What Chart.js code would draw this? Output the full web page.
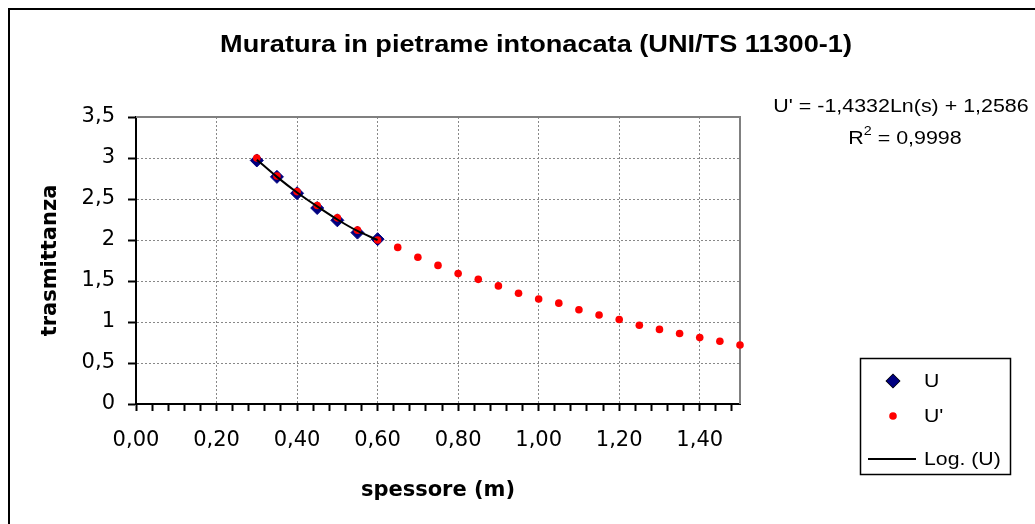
<!DOCTYPE html>
<html>
<head>
<meta charset="utf-8">
<script src="https://cdn.jsdelivr.net/npm/chart.js@4.4.0/dist/chart.umd.min.js"></script>
<style>
  html, body { margin: 0; padding: 0; background: #fff; }
  #wrap { position: relative; width: 1035px; height: 524px; }
</style>
</head>
<body>
<div id="wrap"><canvas id="chart"></canvas></div>
<script>
// valori
const spessoreU = [0.30, 0.35, 0.40, 0.45, 0.50, 0.55, 0.60];
const valoriU = [2.97, 2.77, 2.57, 2.39, 2.24, 2.09, 2.01];

const spessoreUp = [0.30, 0.35, 0.40, 0.45, 0.50, 0.55, 0.60, 0.65, 0.70, 0.75, 0.80, 0.85, 0.90,
    0.95, 1.00, 1.05, 1.10, 1.15, 1.20, 1.25, 1.30, 1.35, 1.40, 1.45, 1.50];
const valoriUp = [3.00, 2.78, 2.59, 2.42, 2.27, 2.12, 2.00, 1.91, 1.79, 1.69, 1.59, 1.52, 1.44,
    1.35, 1.28, 1.23, 1.15, 1.085, 1.03, 0.96, 0.91, 0.86, 0.81, 0.765, 0.72];

// linea di tendenza logaritmica (U)
const spessoreLog = [0.30, 0.35, 0.40, 0.45, 0.50, 0.55, 0.60];
const valoriLog = [2.98, 2.77, 2.58, 2.41, 2.25, 2.11, 2.00];

const titolo = 'Muratura in pietrame intonacata (UNI/TS 11300-1)';
const equazione = "U' = -1,4332Ln(s) + 1,2586";
const erre2 = '0,9998';
const legendaVoci = ['U', "U'", 'Log. (U)'];

const FONT = "'Liberation Sans', Arial, sans-serif";
const AXFONT = "'DejaVu Sans', sans-serif";

function toPoints(xs, ys) { return xs.map((x, i) => ({ x: x, y: ys[i] })); }
function isMajorX(v) { return Math.abs(v * 5 - Math.round(v * 5)) < 1e-6; }

// testo allargato in orizzontale, come nel grafico originale
function wideText(ctx, text, x, y, sx, align) {
    ctx.save();
    ctx.translate(x, y);
    ctx.scale(sx, 1);
    ctx.textAlign = align;
    ctx.fillText(text, 0, 0);
    ctx.restore();
}

const decorations = {
    id: 'decorations',
    beforeDraw(chart) {
        const ctx = chart.ctx;
        ctx.save();
        ctx.fillStyle = '#fff';
        ctx.fillRect(0, 0, chart.width, chart.height);
        ctx.restore();
    },
    beforeDatasetsDraw(chart) {
        const ctx = chart.ctx, a = chart.chartArea;
        ctx.save();
        ctx.strokeStyle = '#808080';
        ctx.lineWidth = 2;
        ctx.beginPath();
        ctx.moveTo(a.left, a.top);
        ctx.lineTo(a.right, a.top);
        ctx.lineTo(a.right, a.bottom);
        ctx.stroke();
        ctx.restore();
    },
    afterDraw(chart) {
        const ctx = chart.ctx;
        ctx.save();
        ctx.strokeStyle = '#000';
        ctx.lineWidth = 2;
        ctx.strokeRect(9, 9, 1100, 600);

        ctx.fillStyle = '#000';
        ctx.textBaseline = 'middle';
        ctx.font = 'bold 23px ' + FONT;
        wideText(ctx, titolo, 536, 46, 1.18, 'center');

        // equazione della tendenza
        ctx.font = '18px ' + FONT;
        wideText(ctx, equazione, 901, 107, 1.19, 'center');
        const wR = ctx.measureText('R').width;
        const wRest = ctx.measureText(' = ' + erre2).width;
        ctx.font = '12px ' + FONT;
        const w2 = ctx.measureText('2').width;
        const x0 = 905 - 1.19 * (wR + w2 + wRest) / 2;
        ctx.font = '18px ' + FONT;
        wideText(ctx, 'R', x0, 139, 1.19, 'left');
        ctx.font = '12px ' + FONT;
        wideText(ctx, '2', x0 + 1.19 * wR, 132, 1.19, 'left');
        ctx.font = '18px ' + FONT;
        wideText(ctx, ' = ' + erre2, x0 + 1.19 * (wR + w2), 139, 1.19, 'left');

        // legenda
        ctx.lineWidth = 1.5;
        ctx.strokeRect(860.5, 358.5, 150, 116);
        const ys = [381, 416, 459];
        const ds = chart.data.datasets;
        Chart.helpers.drawPoint(ctx, { pointStyle: 'rectRot', radius: 6.5, rotation: 0, borderWidth: 1 }, 893, ys[0]);
        ctx.fillStyle = ds[0].backgroundColor; ctx.fill();
        ctx.fillStyle = ds[1].backgroundColor;
        ctx.beginPath(); ctx.arc(893, ys[1], 3.8, 0, Math.PI * 2); ctx.fill();
        ctx.strokeStyle = '#000';
        ctx.lineWidth = 2;
        ctx.beginPath(); ctx.moveTo(868, ys[2]); ctx.lineTo(916, ys[2]); ctx.stroke();
        ctx.fillStyle = '#000';
        ctx.font = '18px ' + FONT;
        legendaVoci.forEach((t, i) => wideText(ctx, t, 924, ys[i] + 1, 1.18, 'left'));
        ctx.restore();
    }
};

new Chart(document.getElementById('chart'), {
    type: 'scatter',
    data: {
        datasets: [
            {
                label: 'U', data: toPoints(spessoreU, valoriU), order: 3,
                pointStyle: 'rectRot', pointRadius: 6.5, backgroundColor: '#000080',
                borderColor: '#000080', borderWidth: 1, showLine: false, clip: false
            },
            {
                label: "U'", data: toPoints(spessoreUp, valoriUp), order: 2,
                pointStyle: 'circle', pointRadius: 3.8, backgroundColor: '#ff0000',
                borderColor: '#ff0000', borderWidth: 0, showLine: false, clip: false
            },
            {
                label: 'Log. (U)', data: toPoints(spessoreLog, valoriLog), order: 1,
                showLine: true, borderColor: '#000', borderWidth: 2, pointRadius: 0,
                tension: 0.3, fill: false, clip: false
            }
        ]
    },
    options: {
        responsive: true,
        maintainAspectRatio: false,
        animation: false,
        events: [],
        layout: { padding: { left: 8, top: 117, right: 295, bottom: 10 } },
        plugins: { legend: { display: false }, tooltip: { enabled: false }, title: { display: false } },
        scales: {
            x: {
                type: 'linear', min: 0, max: 1.5,
                afterFit: s => { s.height = 110; },
                ticks: {
                    stepSize: 0.04, autoSkip: false, maxRotation: 0, includeBounds: false,
                    color: '#000', font: { family: AXFONT, size: 21 }, padding: 17,
                    callback: v => isMajorX(v) ? v.toFixed(2).replace('.', ',') : ''
                },
                grid: {
                    color: c => (c.tick && isMajorX(c.tick.value) && c.tick.value > 0) ? '#888' : 'rgba(0,0,0,0)',
                    lineWidth: 1, tickColor: '#000', tickLength: 7, tickWidth: 2
                },
                border: { display: true, color: '#000', width: 2, dash: [2, 2] },
                title: {
                    display: true, text: 'spessore (m)', color: '#000',
                    font: { family: AXFONT, size: 21, weight: 'bold' }, padding: { top: 0, bottom: 11 }
                }
            },
            y: {
                type: 'linear', min: 0, max: 3.5,
                afterFit: s => { s.width = 128; },
                ticks: {
                    stepSize: 0.5, color: '#000', font: { family: AXFONT, size: 21 }, padding: 13,
                    callback: v => String(v).replace('.', ',')
                },
                grid: {
                    color: c => (c.tick && c.tick.value > 0) ? '#888' : 'rgba(0,0,0,0)',
                    lineWidth: 1, tickColor: '#000', tickLength: 8, tickWidth: 2
                },
                border: { display: true, color: '#000', width: 2, dash: [2, 2] },
                title: {
                    display: true, text: 'trasmittanza', color: '#000',
                    font: { family: AXFONT, size: 21, weight: 'bold' }, padding: { top: 30, bottom: 0 }
                }
            }
        }
    },
    plugins: [decorations]
});
</script>
</body>
</html>
